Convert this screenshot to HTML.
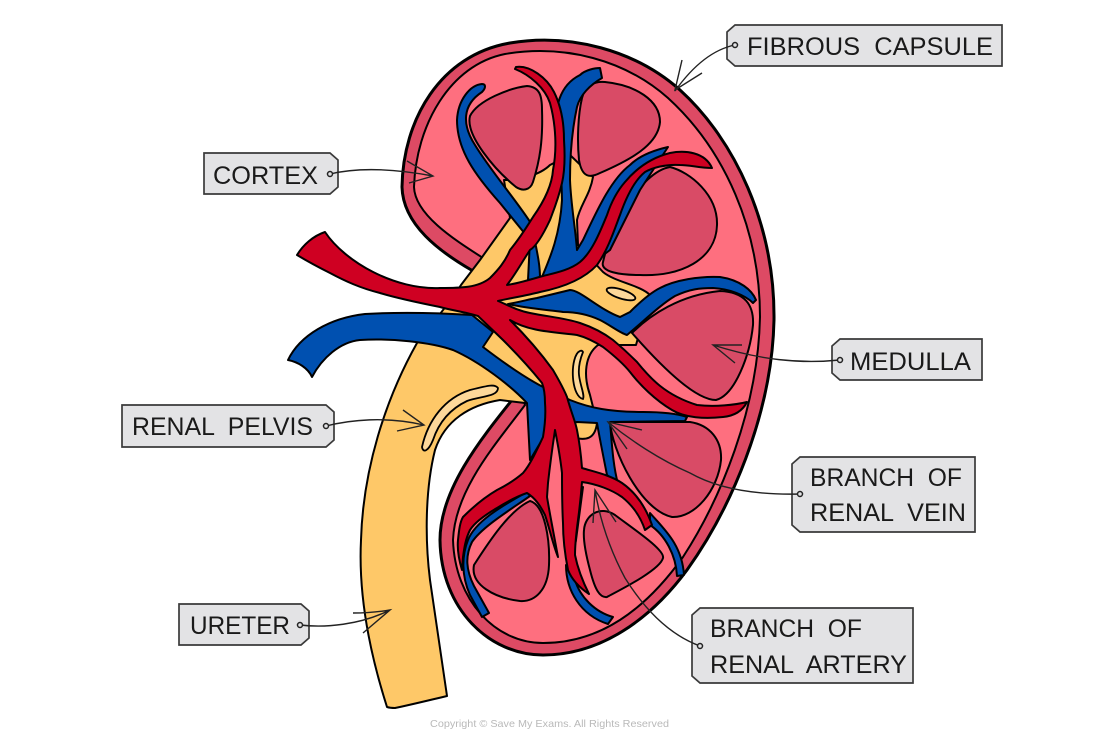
<!DOCTYPE html>
<html><head><meta charset="utf-8"><style>
html,body{margin:0;padding:0;background:#fff}
svg{display:block}
text{font-family:"Liberation Sans",sans-serif;fill:#1a1a1a}
.l{font-size:25px}
.v{stroke:#000;stroke-width:2;stroke-linejoin:round}
.a{fill:none;stroke:#222;stroke-width:1.4}
.d{fill:#e3e3e5;stroke:#222;stroke-width:1.5}
.t{fill:#e3e3e5;stroke:#3a3a3a;stroke-width:1.7}
</style></head><body>
<svg width="1100" height="736" viewBox="0 0 1100 736" xmlns="http://www.w3.org/2000/svg">
<!-- kidney -->
<path fill="#dd4a64" stroke="#000" stroke-width="3" d="M473,271 C440,252 403,225 402,187 C403,120 440,55 510,43 C570,33 635,50 680,90 C735,140 775,225 774,320 C772,415 730,510 687,570 C650,620 600,655 543,655 C490,655 441,610 440,540 C440,490 480,440 512,400 Z"/>
<path fill="#fe6f7f" stroke="#000" stroke-width="2" d="M483,258 C455,240 415,215 414,187 C416,125 450,65 505,54 C565,44 625,60 668,98 C725,150 760,230 760,317 C758,410 720,500 683,557 C645,610 600,643 543,643 C495,643 455,600 453,540 C455,490 495,445 525,405 Z"/>
<!-- ureter and pelvis -->
<path class="v" fill="#fec868" d="M387,707 C372,660 358,600 361,540 C363,470 385,400 417,343 C430,325 445,310 461,285 L480,260 L510,218 L504,180 C520,180 540,175 550,165 L570,155 L593,177 C590,195 580,205 577,220 L578,245 L603,272 C615,282 640,285 650,295 L636,345 L598,345 C585,355 583,375 590,395 L597,423 C595,440 585,440 575,438 L560,405 L525,403 L500,400 C470,405 445,420 435,450 C425,490 425,540 430,580 L447,696 C430,700 410,705 395,708 Q390,708 387,707 Z"/>
<!-- medulla -->
<g fill="#d94b66" stroke="#000" stroke-width="2">
<path d="M470,116 C478,100 510,88 527,86 C540,87 542,96 542,110 C543,140 540,160 533,182 C530,191 522,191 516,187 C495,170 465,135 470,116Z"/>
<path d="M582,98 C585,85 595,81 605,82 C635,85 660,100 660,122 C658,145 630,160 600,173 C590,178 582,178 579,160 C577,140 578,115 582,98Z"/>
<path d="M603,262 C610,230 640,172 670,167 C690,172 718,195 717,225 C716,260 680,277 640,275 C620,275 600,272 603,262Z"/>
<path d="M632,333 C650,315 680,295 720,291 C745,292 754,305 753,325 C750,355 735,395 716,400 C695,400 660,365 632,333Z"/>
<path d="M610,422 L690,422 C710,425 722,440 721,460 C718,490 695,518 672,517 C640,510 612,450 610,422Z"/>
<path d="M474,565 C490,540 510,510 530,501 C545,505 550,540 549,565 C548,590 535,602 520,601 C495,598 470,585 474,565Z"/>
<path d="M584,530 C585,515 600,505 615,515 C635,530 665,550 663,558 C660,570 620,590 607,597 C600,598 595,590 590,570 C586,555 583,540 584,530Z"/>
</g>
<!-- pale -->
<g fill="#fdd89a" stroke="#000" stroke-width="1.8">
<path d="M498,388 C495,384 490,385 470,390 C445,398 428,420 422,447 C423,453 428,452 433,440 C438,425 448,410 467,401 C480,396 498,397 498,388Z"/>
<ellipse cx="621" cy="294" rx="15" ry="4.5" transform="rotate(18 621 294)"/>
<path d="M580,351 C575,353 572,365 573,378 C574,390 578,398 583,399 C585,395 580,385 579,375 C578,365 581,357 583,352 Q582,350 580,351Z"/>
</g>
<!-- veins -->
<g fill="#0050b0" class="v">
<path d="M288,360 C300,335 330,318 365,314 C400,312 440,313 472,315 L493,332 L483,347 C500,360 525,378 545,388 L570,400 C590,408 610,412 643,412 C660,412 675,413 687,417 L685,421 L610,422 C612,445 613,465 618,484 L607,475 C603,455 600,440 597,423 L577,422 L548,430 L530,460 C529,440 528,420 527,403 C510,385 480,362 453,350 C430,342 390,338 360,340 C340,342 322,358 312,377 C308,368 298,362 288,360Z"/>
<path d="M482,84 C470,85 458,100 457,120 C457,150 475,175 500,203 L530,240 L528,280 L540,278 C540,260 535,245 532,225 C520,205 490,170 475,145 C462,125 462,105 482,92 C486,88 486,84 482,84Z"/>
<path d="M600,68 L602,78 C590,85 580,95 577,107 C572,130 570,155 570,180 C571,205 575,225 577,250 L583,240 C595,215 610,180 630,165 C640,155 655,150 668,147 L640,190 L610,250 L590,265 L542,277 C550,258 560,235 562,200 L560,130 C552,110 560,85 580,75 C585,70 595,68 600,68Z"/>
<path d="M508,304 C520,302 530,299 537,298 L570,290 C580,290 600,310 620,317 L630,312 C640,302 650,293 660,288 C675,280 700,276 720,277 C740,280 752,290 756,300 L753,303 C745,295 730,289 713,288 C700,288 690,289 675,296 C660,305 645,320 627,335 C620,333 610,325 600,320 C585,313 570,312 563,312 C550,310 530,309 508,304Z"/>
<path d="M527,492 C500,507 475,522 468,540 C462,555 461,575 470,595 L482,617 L489,613 L474,586 C466,570 465,556 472,542 C482,527 510,510 530,496Z"/>
<path d="M566,565 C566,590 580,615 608,624 L613,617 C595,612 580,597 575,580 Z"/>
<path d="M583,487 L576,540 L572,560 L568,500Z"/>
<path d="M650,513 C665,530 682,545 684,575 L677,576 C676,555 665,535 650,525Z"/>
</g>
<!-- arteries -->
<path class="v" fill="#cf0022" d="M325,232 C345,262 395,290 440,288 C460,288 478,288 490,278 C498,270 505,262 510,250 C520,238 528,225 533,217 C545,200 552,185 553,170 C557,150 556,125 550,103 C545,88 530,75 515,69 L516,67 C530,65 547,78 554,92 C562,108 564,125 564,140 C565,155 565,170 562,183 C558,200 553,212 550,220 C542,237 535,247 530,250 C522,262 515,275 507,285 C520,283 532,279 543,276 C555,273 570,270 580,262 C592,252 600,232 607,215 C612,200 618,190 625,182 C635,170 650,158 670,153 C685,150 705,152 712,168 C700,168 690,165 680,165 C665,164 652,168 645,172 C635,180 627,195 620,215 C615,228 608,250 597,265 C585,278 565,287 540,292 C525,296 510,298 498,301 C508,305 518,311 530,313 C550,317 565,318 580,323 C595,328 605,334 613,340 C625,350 630,355 637,362 C650,378 665,395 697,405 C715,407 735,405 747,402 C742,412 733,416 723,417 C705,419 685,418 672,410 C655,400 640,385 630,372 C622,362 612,354 603,347 C592,340 585,337 577,335 C555,332 530,332 510,320 C525,335 540,352 553,370 C560,382 565,392 567,397 C572,415 575,420 577,430 C580,445 581,455 582,468 C595,472 610,475 622,483 C635,492 645,505 652,525 L645,530 C640,515 632,505 622,497 C612,490 597,484 582,482 C581,495 580,505 578,520 C576,535 575,545 575,555 C578,570 583,582 589,594 C580,588 572,580 568,570 C565,555 563,540 563,523 C562,505 562,490 562,473 C560,455 558,445 555,430 C552,450 550,465 548,483 L547,497 C550,515 554,535 558,557 C553,545 550,530 545,515 C540,505 535,498 527,493 C515,497 505,503 497,508 C485,515 475,522 470,530 C465,540 464,550 463,557 L462,570 C459,560 457,550 458,540 C459,530 460,522 463,517 C475,505 485,497 497,490 C505,486 515,480 523,473 C530,465 537,450 543,437 C545,425 546,415 545,403 C545,395 544,388 542,383 C530,368 515,352 503,340 L478,316 C465,312 450,310 440,307 C420,303 400,299 380,293 C360,288 345,281 330,273 C318,267 307,261 297,255 C303,245 313,236 325,232Z"/>
<!-- label tags -->
<path class="t" d="M735,25 H1002 V66 H735 L727,59 V32Z"/>
<path class="t" d="M204,153 H330 L338,160 V187 L330,194 H204Z"/>
<path class="t" d="M122,405 H326 L334,412 V440 L326,447 H122Z"/>
<path class="t" d="M179,604 H301 L309,611 V638 L301,645 H179Z"/>
<path class="t" d="M840,339 H982 V380 H840 L832,373 V346Z"/>
<path class="t" d="M800,457 H975 V532 H800 L792,525 V464Z"/>
<path class="t" d="M700,608 H913 V683 H700 L692,676 V615Z"/>
<!-- text -->
<text class="l" x="747" y="55" textLength="246" lengthAdjust="spacingAndGlyphs" xml:space="preserve">FIBROUS  CAPSULE</text>
<text class="l" x="213" y="184" textLength="105" lengthAdjust="spacingAndGlyphs">CORTEX</text>
<text class="l" x="132" y="435" textLength="181" lengthAdjust="spacingAndGlyphs" xml:space="preserve">RENAL  PELVIS</text>
<text class="l" x="190" y="634" textLength="100" lengthAdjust="spacingAndGlyphs">URETER</text>
<text class="l" x="850" y="370" textLength="121" lengthAdjust="spacingAndGlyphs">MEDULLA</text>
<text class="l" x="810" y="486" textLength="152" lengthAdjust="spacingAndGlyphs" xml:space="preserve">BRANCH  OF</text>
<text class="l" x="810" y="521" textLength="156" lengthAdjust="spacingAndGlyphs" xml:space="preserve">RENAL  VEIN</text>
<text class="l" x="710" y="637" textLength="152" lengthAdjust="spacingAndGlyphs" xml:space="preserve">BRANCH  OF</text>
<text class="l" x="710" y="673" textLength="197" lengthAdjust="spacingAndGlyphs" xml:space="preserve">RENAL  ARTERY</text>
<!-- leaders -->
<g class="a">
<path d="M735,45 C710,50 690,70 675,91 M682,60 L675,90 L702,73"/>
<path d="M330,174 C355,168 390,168 433,176 M407,161 L433,176 L409,183"/>
<path d="M326,426 C350,420 385,416 424,425 M403,410 L424,425 L397,431"/>
<path d="M300,625 C325,628 360,625 390,610 M353,613 C365,613 378,612 390,610 L363,633"/>
<path d="M840,360 C800,364 760,360 713,345 M742,345 L713,345 L735,363"/>
<path d="M800,494 C760,495 720,490 690,473 C660,460 630,440 608,422 M642,430 L608,422 L627,449"/>
<path d="M700,646 C670,635 645,610 625,578 C610,550 600,520 595,490 M593,523 L595,490 L616,522"/>
</g>
<circle class="d" cx="735" cy="45" r="2.5"/>
<circle class="d" cx="330" cy="174" r="2.5"/>
<circle class="d" cx="326" cy="426" r="2.5"/>
<circle class="d" cx="300" cy="625" r="2.5"/>
<circle class="d" cx="840" cy="360" r="2.5"/>
<circle class="d" cx="800" cy="494" r="2.5"/>
<circle class="d" cx="700" cy="646" r="2.5"/>
<text x="430" y="727" font-size="10.5" style="fill:#b9b9b9" textLength="239" lengthAdjust="spacingAndGlyphs">Copyright © Save My Exams. All Rights Reserved</text>
</svg>
</body></html>
